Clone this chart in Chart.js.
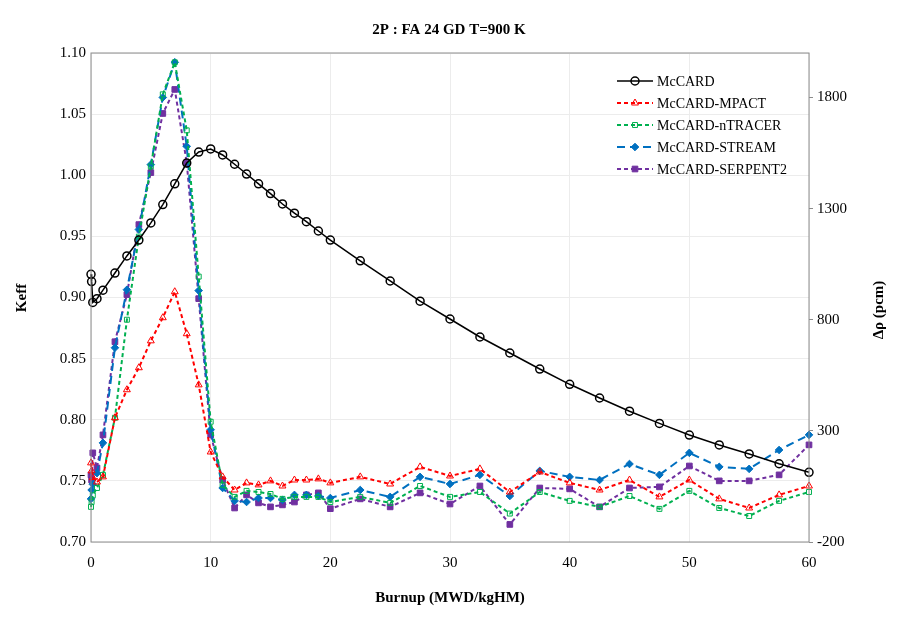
<!DOCTYPE html>
<html lang="en">
<head>
    <meta charset="UTF-8">
    <title>2P : FA 24 GD T=900 K</title>
    <style>
        body {
            margin: 0;
            background-color: #ffffff;
        }

        #chartContainer {
            width: 898px;
            height: 624px;
        }
    </style>
    <script src="https://cdn.jsdelivr.net/npm/chart.js"></script>
</head>
<body>
    <div id="chartContainer">
        <canvas id="keffChart"></canvas>
    </div>

    <script>
        // burnup steps (MWD/kgHM)
        const burnup = [0, 0.05, 0.15, 0.5, 1, 2, 3, 4, 5, 6, 7, 8, 9, 10, 11, 12, 13, 14, 15, 16, 17, 18, 19, 20,
            22.5, 25, 27.5, 30, 32.5, 35, 37.5, 40, 42.5, 45, 47.5, 50, 52.5, 55, 57.5, 60];

        // Keff from McCARD (left axis)
        const mccardKeff = [0.919, 0.913, 0.896, 0.899, 0.906, 0.920, 0.934, 0.947, 0.961, 0.976, 0.993, 1.010, 1.019,
            1.0215, 1.0166, 1.009, 1.001, 0.993, 0.985, 0.9765, 0.969, 0.962, 0.9544, 0.947, 0.930, 0.9135, 0.897,
            0.8824, 0.8677, 0.8546, 0.8415, 0.829, 0.8178, 0.807, 0.797, 0.7875, 0.7794, 0.772, 0.764, 0.757];

        // reactivity differences vs McCARD (pcm, right axis)
        const mpactDiff = [156, 120, 90, 70, 93, 359, 485, 584, 705, 809, 926, 737, 507, 205, 93, 34, 66, 57, 75, 52,
            79, 79, 84, 66, 93, 61, 138, 97, 129, 25, 115, 66, 34, 79, 3, 79, -6, -47, 12, 52];
        const ntracerDiff = [-42, -20, 10, 43, 102, 359, 800, 1174, 1490, 1814, 1958, 1652, 994, 341, 57, 3, 30, 25,
            16, -6, 3, 3, 3, -20, 3, -24, 52, 3, 25, -72, 25, -15, -42, 7, -51, 30, -47, -83, -15, 25];
        const streamDiff = [-6, 34, 60, 110, 246, 674, 935, 1206, 1498, 1800, 1958, 1580, 931, 305, 43, -15, -20, -2,
            -2, -11, 12, 12, 7, -2, 34, 3, 93, 61, 102, 7, 120, 93, 79, 151, 102, 201, 138, 129, 214, 282];
        const serpentDiff = [102, 79, 201, 133, 282, 701, 913, 1228, 1462, 1728, 1836, 1507, 895, 282, 79, -47, 12,
            -24, -42, -33, -20, 12, 21, -50, -6, -42, 21, -29, 52, -121, 43, 39, -42, 43, 48, 142, 75, 75, 102, 237];

        const keffTicks = [0.70, 0.75, 0.80, 0.85, 0.90, 0.95, 1.00, 1.05, 1.10];
        const pcmTicks = [-200, 300, 800, 1300, 1800];
        const burnupTicks = [0, 10, 20, 30, 40, 50, 60];

        const serif = '"Liberation Serif", "Times New Roman", serif';

        function toPoints(values) {
            return burnup.map((b, i) => ({ x: b, y: values[i] }));
        }

        const datasets = [
            {
                label: 'McCARD', data: toPoints(mccardKeff), yAxisID: 'y',
                borderColor: '#000000', borderWidth: 1.5, borderDash: [],
                pointStyle: 'circle', pointRadius: 4, pointBorderWidth: 1.5,
                pointBorderColor: '#000000', pointBackgroundColor: 'rgba(0,0,0,0)'
            },
            {
                label: 'McCARD-MPACT', data: toPoints(mpactDiff), yAxisID: 'y2',
                borderColor: '#ff0000', borderWidth: 2, borderDash: [4, 3],
                pointStyle: 'triangle', pointRadius: 4, pointBorderWidth: 1,
                pointBorderColor: '#ff0000', pointBackgroundColor: 'rgba(0,0,0,0)'
            },
            {
                label: 'McCARD-nTRACER', data: toPoints(ntracerDiff), yAxisID: 'y2',
                borderColor: '#00b050', borderWidth: 2, borderDash: [4, 3],
                pointStyle: 'rect', pointRadius: 3.5, pointBorderWidth: 1,
                pointBorderColor: '#00b050', pointBackgroundColor: 'rgba(0,0,0,0)'
            },
            {
                label: 'McCARD-STREAM', data: toPoints(streamDiff), yAxisID: 'y2',
                borderColor: '#0070c0', borderWidth: 2, borderDash: [8, 5],
                pointStyle: 'rectRot', pointRadius: 3.8, pointBorderWidth: 1,
                pointBorderColor: '#0070c0', pointBackgroundColor: '#0070c0'
            },
            {
                label: 'McCARD-SERPENT2', data: toPoints(serpentDiff), yAxisID: 'y2',
                borderColor: '#7030a0', borderWidth: 2, borderDash: [4, 3],
                pointStyle: 'rect', pointRadius: 4, pointBorderWidth: 1,
                pointBorderColor: '#7030a0', pointBackgroundColor: '#7030a0'
            }
        ].map(ds => Object.assign(ds, { fill: false, tension: 0, clip: false }));

        // titles, border box and legend drawn by hand so they sit where the original has them
        const decorations = {
            id: 'decorations',
            afterDraw(chart) {
                const ctx = chart.ctx;
                const area = chart.chartArea;
                ctx.save();

                ctx.strokeStyle = '#8c8c8c';
                ctx.lineWidth = 1;
                ctx.strokeRect(area.left, area.top, area.right - area.left, area.bottom - area.top);

                ctx.fillStyle = '#000000';
                ctx.textAlign = 'center';
                ctx.textBaseline = 'middle';
                ctx.font = 'bold 15px ' + serif;
                ctx.fillText('2P : FA 24 GD T=900 K', 449, 30);
                ctx.fillText('Burnup (MWD/kgHM)', 450, 598);

                ctx.save();
                ctx.translate(22, 298);
                ctx.rotate(-Math.PI / 2);
                ctx.fillText('Keff', 0, 0);
                ctx.restore();

                ctx.save();
                ctx.translate(879, 310);
                ctx.rotate(-Math.PI / 2);
                ctx.fillText('Δρ (pcm)', 0, 0);
                ctx.restore();

                // legend
                ctx.font = '14px ' + serif;
                ctx.textAlign = 'left';
                chart.data.datasets.forEach((ds, i) => {
                    const y = 81 + i * 22;
                    ctx.strokeStyle = ds.borderColor;
                    ctx.lineWidth = ds.borderWidth;
                    ctx.setLineDash(ds.borderDash);
                    ctx.beginPath();
                    ctx.moveTo(617, y);
                    ctx.lineTo(653, y);
                    ctx.stroke();
                    ctx.setLineDash([]);
                    ctx.fillStyle = ds.pointBackgroundColor;
                    ctx.strokeStyle = ds.pointBorderColor;
                    ctx.lineWidth = ds.pointBorderWidth;
                    Chart.helpers.drawPoint(ctx, {
                        pointStyle: ds.pointStyle, radius: ds.pointRadius,
                        rotation: 0, borderWidth: ds.pointBorderWidth
                    }, 635, y);
                    ctx.fillStyle = '#000000';
                    ctx.fillText(ds.label, 657, y + 1);
                });

                ctx.restore();
            }
        };

        const ctx = document.getElementById('keffChart').getContext('2d');
        new Chart(ctx, {
            type: 'line',
            data: { datasets: datasets },
            options: {
                responsive: true,
                maintainAspectRatio: false,
                animation: false,
                layout: { padding: { top: 53, left: 0, right: 0, bottom: 0 } },
                plugins: {
                    legend: { display: false },
                    title: { display: false },
                    tooltip: { enabled: false }
                },
                scales: {
                    x: {
                        type: 'linear', min: 0, max: 60,
                        afterFit: scale => { scale.height = 82; },
                        afterBuildTicks: scale => { scale.ticks = burnupTicks.map(v => ({ value: v })); },
                        grid: { color: '#ececec', drawTicks: false },
                        border: { display: false },
                        ticks: {
                            color: '#000000', padding: 12, font: { family: serif, size: 15 }, maxRotation: 0,
                            callback: v => String(v)
                        }
                    },
                    y: {
                        position: 'left', min: 0.70, max: 1.10,
                        afterFit: scale => { scale.width = 91; },
                        afterBuildTicks: scale => { scale.ticks = keffTicks.map(v => ({ value: v })); },
                        grid: { color: '#ececec', drawTicks: false },
                        border: { display: false },
                        ticks: {
                            color: '#000000', padding: 5, font: { family: serif, size: 15 },
                            callback: v => v.toFixed(2)
                        }
                    },
                    y2: {
                        position: 'right', min: -200, max: 2000,
                        afterFit: scale => { scale.width = 89; },
                        afterBuildTicks: scale => { scale.ticks = pcmTicks.map(v => ({ value: v })); },
                        grid: { drawOnChartArea: false, drawTicks: true, tickLength: 4, color: '#8c8c8c' },
                        border: { display: false },
                        ticks: {
                            color: '#000000', padding: 4, font: { family: serif, size: 15 },
                            callback: v => String(v)
                        }
                    }
                }
            },
            plugins: [decorations]
        });
    </script>
</body>
</html>
